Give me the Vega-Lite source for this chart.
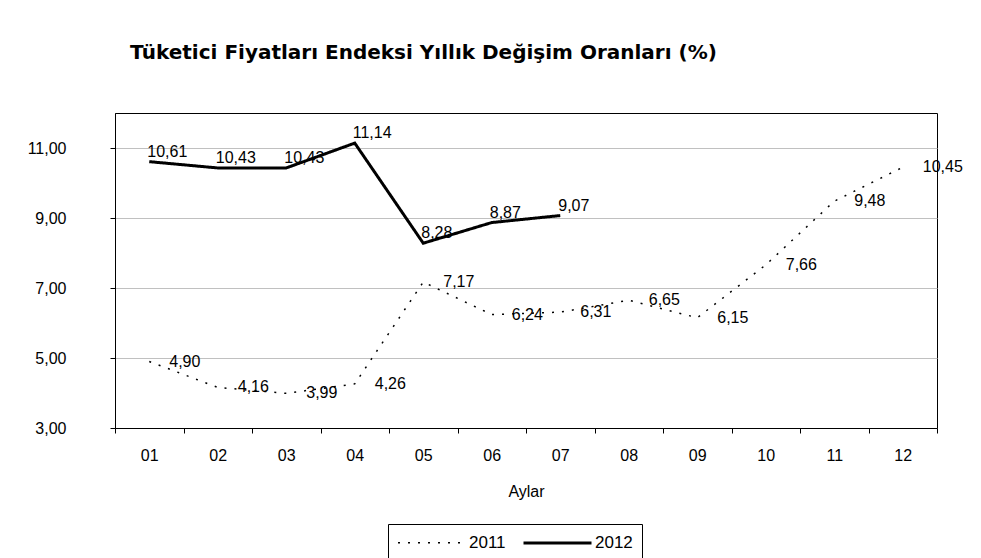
{
  "$schema": "https://vega.github.io/schema/vega-lite/v6.json",
  "width": 822,
  "height": 315,
  "autosize": {"type": "none"},
  "padding": {"left": 115, "top": 113, "right": 44, "bottom": 130},
  "background": "white",
  "config": {
    "locale": {"number": {"decimal": ",", "thousands": ".", "grouping": [3], "currency": ["", " TL"]}},
    "font": "Liberation Sans",
    "view": {"stroke": "black", "strokeWidth": 1}
  },
  "title": {
    "text": "Tüketici Fiyatları Endeksi Yıllık Değişim Oranları (%)",
    "anchor": "start",
    "frame": "group",
    "dx": 15,
    "offset": 50,
    "fontSize": 20,
    "fontWeight": "bold",
    "color": "black",
    "font": "DejaVu Sans"
  },
  "data": {
    "values": [
      {"year": "2011", "month": "01", "value": 4.90},
      {"year": "2011", "month": "02", "value": 4.16},
      {"year": "2011", "month": "03", "value": 3.99},
      {"year": "2011", "month": "04", "value": 4.26},
      {"year": "2011", "month": "05", "value": 7.17},
      {"year": "2011", "month": "06", "value": 6.24},
      {"year": "2011", "month": "07", "value": 6.31},
      {"year": "2011", "month": "08", "value": 6.65},
      {"year": "2011", "month": "09", "value": 6.15},
      {"year": "2011", "month": "10", "value": 7.66},
      {"year": "2011", "month": "11", "value": 9.48},
      {"year": "2011", "month": "12", "value": 10.45},
      {"year": "2012", "month": "01", "value": 10.61},
      {"year": "2012", "month": "02", "value": 10.43},
      {"year": "2012", "month": "03", "value": 10.43},
      {"year": "2012", "month": "04", "value": 11.14},
      {"year": "2012", "month": "05", "value": 8.28},
      {"year": "2012", "month": "06", "value": 8.87},
      {"year": "2012", "month": "07", "value": 9.07}
    ]
  },
  "encoding": {
    "x": {
      "field": "month",
      "type": "ordinal",
      "bandPosition": 0.5,
      "scale": {"type": "band", "paddingInner": 0, "paddingOuter": 0},
      "axis": {
        "title": "Aylar",
        "titleFont": "Liberation Sans",
        "titleFontSize": 16,
        "titleFontWeight": "normal",
        "titleColor": "black",
        "titlePadding": 20,
        "labelAngle": 0,
        "labelFontSize": 16,
        "labelColor": "black",
        "labelPadding": 14,
        "tickBand": "extent",
        "tickSize": 5,
        "tickColor": "black",
        "domainColor": "black",
        "grid": false
      }
    },
    "y": {
      "field": "value",
      "type": "quantitative",
      "scale": {"domain": [3, 12], "nice": false, "zero": false},
      "axis": {
        "title": null,
        "values": [3, 5, 7, 9, 11],
        "format": ".2f",
        "labelFontSize": 16,
        "labelColor": "black",
        "labelPadding": 44,
        "tickSize": 5,
        "tickColor": "black",
        "domainColor": "black",
        "grid": true,
        "gridColor": "#c0c0c0",
        "gridWidth": 1
      }
    }
  },
  "layer": [
    {
      "mark": {"type": "line", "color": "black"},
      "encoding": {
        "strokeDash": {
          "field": "year",
          "type": "ordinal",
          "scale": {"domain": ["2011", "2012"], "range": [[2, 8], [1, 0]]},
          "legend": {
            "title": null,
            "orient": "none",
            "legendX": 273,
            "legendY": 411,
            "direction": "horizontal",
            "strokeColor": "black",
            "padding": 9,
            "symbolType": "M-1,0H7",
            "symbolSize": 289,
            "symbolStrokeColor": "black",
            "symbolFillColor": "transparent",
            "labelFontSize": 17,
            "labelColor": "black",
            "labelOffset": 53,
            "columnPadding": 11
          }
        },
        "strokeWidth": {
          "field": "year",
          "type": "ordinal",
          "scale": {"domain": ["2011", "2012"], "range": [1.5, 3]},
          "legend": {
            "title": null,
            "orient": "none",
            "legendX": 273,
            "legendY": 411,
            "direction": "horizontal",
            "strokeColor": "black",
            "padding": 9,
            "symbolType": "M-1,0H7",
            "symbolSize": 289,
            "symbolStrokeColor": "black",
            "symbolFillColor": "transparent",
            "labelFontSize": 17,
            "labelColor": "black",
            "labelOffset": 53,
            "columnPadding": 11
          }
        }
      }
    },
    {
      "transform": [{"filter": "datum.year === '2011'"}],
      "mark": {"type": "text", "align": "left", "baseline": "middle", "dx": 20, "fontSize": 16, "color": "black"},
      "encoding": {"text": {"field": "value", "type": "quantitative", "format": ".2f"}}
    },
    {
      "transform": [{"filter": "datum.year === '2012'"}],
      "mark": {"type": "text", "align": "left", "baseline": "middle", "dx": -2, "dy": -10, "fontSize": 16, "color": "black"},
      "encoding": {"text": {"field": "value", "type": "quantitative", "format": ".2f"}}
    }
  ]
}
